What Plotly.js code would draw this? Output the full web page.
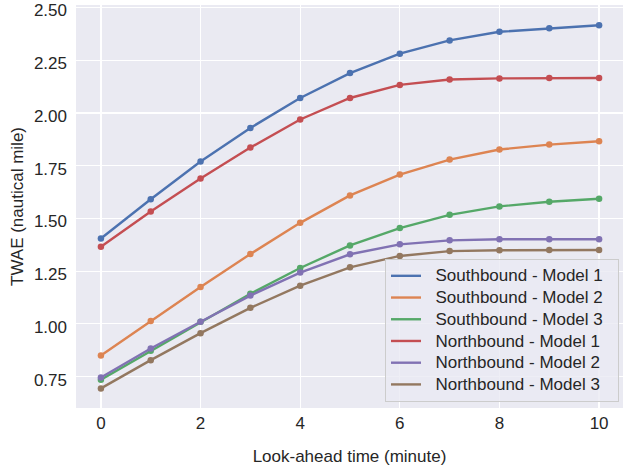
<!DOCTYPE html>
<html>
<head>
<meta charset="utf-8">
<script src="https://cdn.plot.ly/plotly-3.0.1.min.js"></script>
<style>html,body{margin:0;padding:0;background:#fff;}#chart{width:623px;height:468px;}</style>
</head>
<body>
<div id="chart"></div>
<script>
const lookAhead = [0, 1, 2, 3, 4, 5, 6, 7, 8, 9, 10];
const seriesNames = ["Southbound - Model 1", "Southbound - Model 2", "Southbound - Model 3",
                     "Northbound - Model 1", "Northbound - Model 2", "Northbound - Model 3"];
const southModel1 = [1.405, 1.591, 1.770, 1.929, 2.071, 2.189, 2.281, 2.344, 2.385, 2.402, 2.416];
const southModel2 = [0.850, 1.014, 1.175, 1.331, 1.479, 1.609, 1.708, 1.779, 1.827, 1.850, 1.866];
const southModel3 = [0.735, 0.872, 1.010, 1.143, 1.265, 1.372, 1.454, 1.517, 1.557, 1.579, 1.593];
const northModel1 = [1.366, 1.533, 1.689, 1.836, 1.969, 2.071, 2.133, 2.159, 2.164, 2.166, 2.166];
const northModel2 = [0.746, 0.883, 1.010, 1.134, 1.243, 1.330, 1.377, 1.396, 1.401, 1.401, 1.401];
const northModel3 = [0.694, 0.828, 0.956, 1.076, 1.181, 1.268, 1.322, 1.345, 1.349, 1.350, 1.350];
const xTicks = [0, 2, 4, 6, 8, 10];
const yTicks = [0.75, 1.00, 1.25, 1.50, 1.75, 2.00, 2.25, 2.50];
const yTickLabels = ["0.75", "1.00", "1.25", "1.50", "1.75", "2.00", "2.25", "2.50"];

const allSeries = [southModel1, southModel2, southModel3, northModel1, northModel2, northModel3];
const colors = ["#4C72B0", "#DD8452", "#55A868", "#C44E52", "#8172B3", "#937860"];
const textColor = "#262626";
const fontFamily = "'Liberation Sans', Arial, sans-serif";

const dataTraces = allSeries.map((ys, i) => ({
  x: lookAhead, y: ys, name: seriesNames[i], type: "scatter", mode: "lines+markers",
  line: {color: colors[i], width: 2.4},
  marker: {color: colors[i], size: 6.5},
  showlegend: false
}));
// legend entries show line only (like the reference)
const legendTraces = seriesNames.map((n, i) => ({
  x: [null], y: [null], type: "scatter", mode: "lines",
  name: '<span style="font-size:17px">&nbsp;&nbsp;' + n + '&nbsp;&nbsp;</span>',
  line: {color: colors[i], width: 2.4},
  showlegend: true, hoverinfo: "skip"
}));

const layout = {
  width: 623, height: 468,
  margin: {l: 76, r: 0, t: 5, b: 60},
  paper_bgcolor: "#ffffff",
  plot_bgcolor: "#EAEAF2",
  font: {family: fontFamily, size: 17, color: textColor},
  showlegend: true,
  legend: {
    x: 0.9927, xanchor: "right", y: 0.015, yanchor: "bottom",
    bgcolor: "rgba(234,234,242,0.8)", bordercolor: "#CCCCCC", borderwidth: 1,
    font: {family: fontFamily, size: 14.4, color: textColor},
    itemwidth: 30, tracegroupgap: 0
  },
  xaxis: {
    range: [-0.5, 10.48], tickvals: xTicks, ticktext: xTicks.map(String),
    showgrid: true, gridcolor: "#ffffff", gridwidth: 1.2, zeroline: false,
    ticks: "", showline: false, ticklabelstandoff: 3,
    tickfont: {family: fontFamily, size: 17, color: textColor},
    title: {text: "Look-ahead time (minute)", font: {family: fontFamily, size: 17, color: textColor}, standoff: 18}
  },
  yaxis: {
    range: [0.601, 2.512], tickvals: yTicks, ticktext: yTickLabels,
    showgrid: true, gridcolor: "#ffffff", gridwidth: 1.2, zeroline: false,
    ticks: "", showline: false, ticklabeloverflow: "allow",
    ticklabelstandoff: 8, ticklabelshift: 3,
    tickfont: {family: fontFamily, size: 17, color: textColor},
    title: {text: "TWAE (nautical mile)", font: {family: fontFamily, size: 17, color: textColor}, standoff: 5}
  }
};

Plotly.newPlot("chart", dataTraces.concat(legendTraces), layout, {displayModeBar: false, staticPlot: true});
</script>
</body>
</html>
